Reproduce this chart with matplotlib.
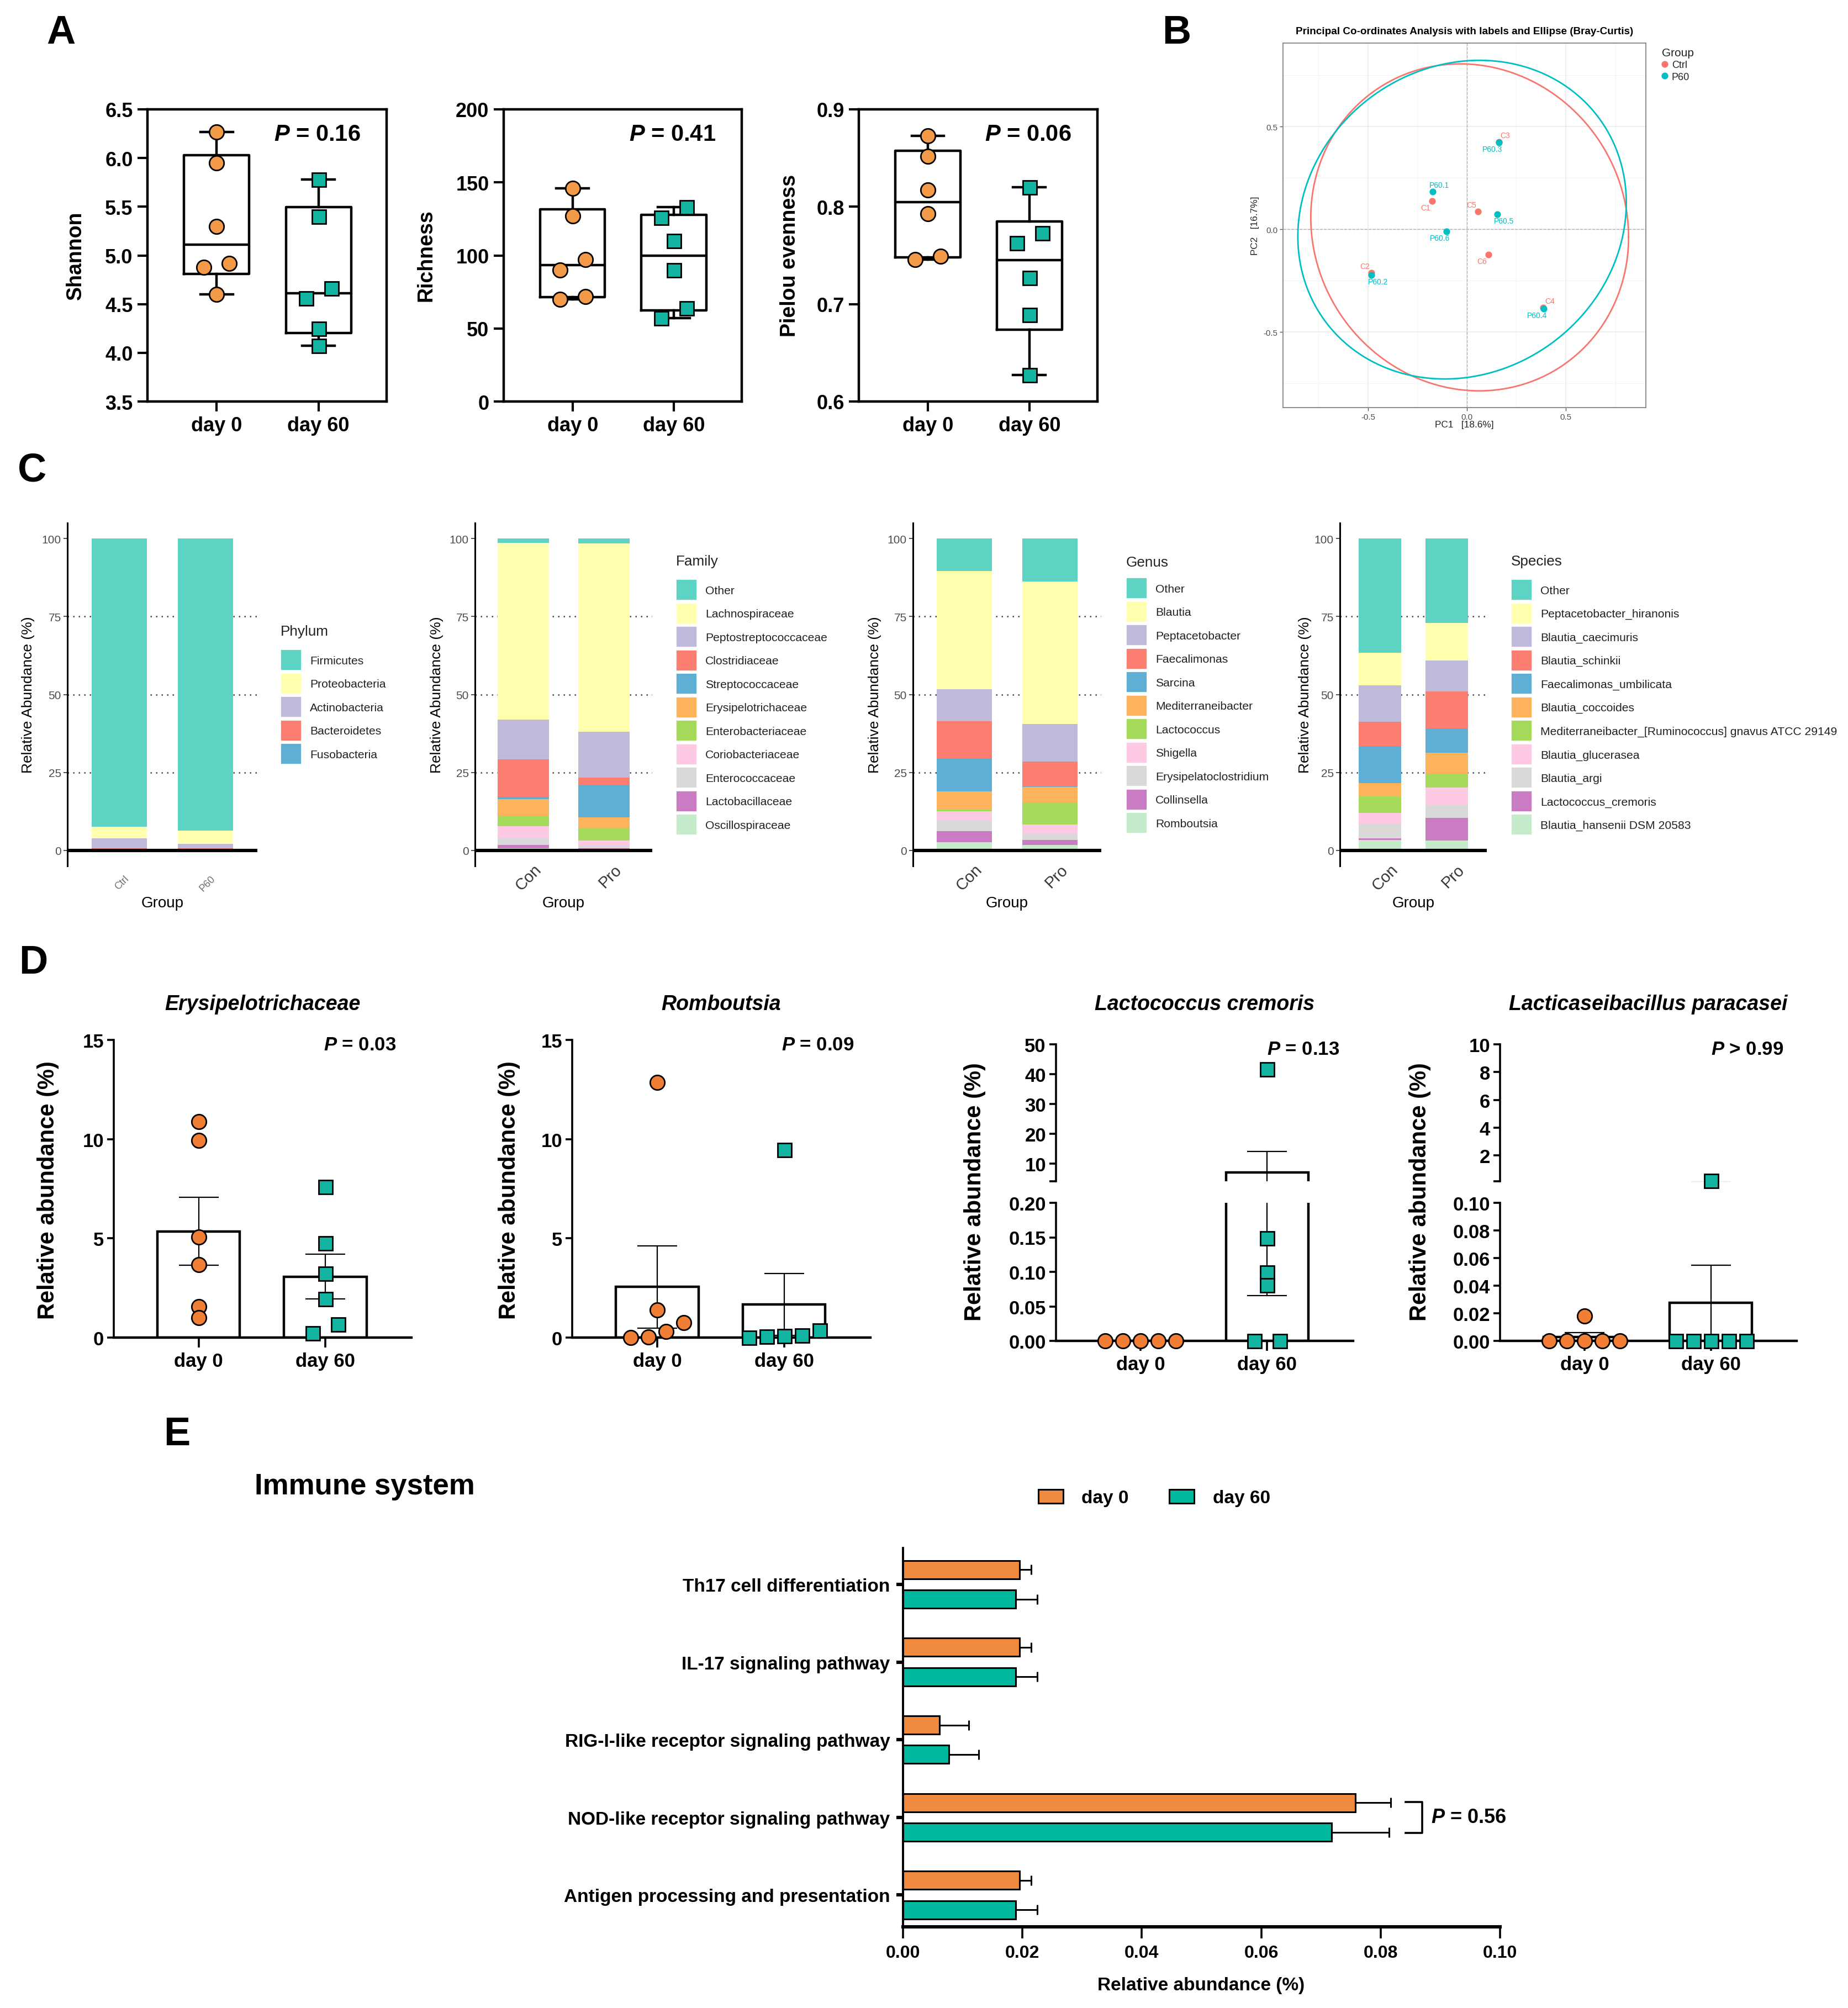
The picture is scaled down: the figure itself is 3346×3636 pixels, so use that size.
import numpy as np
import matplotlib
matplotlib.use('Agg')
import matplotlib.pyplot as plt
import matplotlib.transforms as mtrans
from matplotlib.patches import Patch
from matplotlib.lines import Line2D

plt.rcParams['font.family'] = ['Liberation Sans', 'DejaVu Sans']
plt.rcParams['mathtext.fontset'] = 'custom'
plt.rcParams['mathtext.it'] = 'Liberation Sans:italic:bold'
plt.rcParams['mathtext.rm'] = 'Liberation Sans:bold'
plt.rcParams['mathtext.bf'] = 'Liberation Sans:bold'

W, H, DPI = 3346, 3637, 200

# ---------------- data ----------------
groups = ['day 0', 'day 60']

# A: alpha diversity (six samples per group)
shannon_day0 = [6.27, 5.95, 5.30, 4.92, 4.88, 4.60]
shannon_day60 = [5.78, 5.40, 4.66, 4.56, 4.25, 4.07]
richness_day0 = [146, 127, 97, 90, 72, 70]
richness_day60 = [133, 126, 110, 90, 64, 57]
pielou_day0 = [0.873, 0.852, 0.817, 0.793, 0.749, 0.746]
pielou_day60 = [0.820, 0.773, 0.763, 0.727, 0.689, 0.627]
alpha_pvals = ['0.16', '0.41', '0.06']

# B: PCoA coordinates
ctrl_names = ['C1', 'C2', 'C3', 'C4', 'C5', 'C6']
ctrl_pc1 = [-0.175, -0.484, 0.161, 0.385, 0.055, 0.108]
ctrl_pc2 = [0.136, -0.212, 0.425, -0.381, 0.086, -0.123]
p60_names = ['P60.1', 'P60.2', 'P60.3', 'P60.4', 'P60.5', 'P60.6']
p60_pc1 = [-0.173, -0.482, 0.161, 0.389, 0.154, -0.104]
p60_pc2 = [0.184, -0.222, 0.422, -0.388, 0.073, -0.010]

# C: relative abundance (%), taxa listed top of stack first
phylum_taxa = ['Firmicutes', 'Proteobacteria', 'Actinobacteria', 'Bacteroidetes', 'Fusobacteria']
phylum_groups = ['Ctrl', 'P60']
phylum_ctrl = [92.5, 3.7, 3.1, 0.4, 0.3]
phylum_p60 = [93.7, 4.3, 1.4, 0.3, 0.3]

family_taxa = ['Other', 'Lachnospiraceae', 'Peptostreptococcaceae', 'Clostridiaceae',
               'Streptococcaceae', 'Erysipelotrichaceae', 'Enterobacteriaceae',
               'Coriobacteriaceae', 'Enterococcaceae', 'Lactobacillaceae', 'Oscillospiraceae']
family_con = [1.3, 56.7, 12.9, 12.0, 0.6, 5.5, 3.3, 3.8, 2.2, 1.1, 0.6]
family_pro = [1.6, 60.4, 14.7, 2.4, 10.4, 3.2, 4.1, 1.7, 0.8, 0.2, 0.5]

genus_taxa = ['Other', 'Blautia', 'Peptacetobacter', 'Faecalimonas', 'Sarcina',
              'Mediterraneibacter', 'Lactococcus', 'Shigella', 'Erysipelatoclostridium',
              'Collinsella', 'Romboutsia']
genus_con = [10.4, 37.9, 10.3, 12.0, 10.5, 5.9, 0.5, 2.9, 3.4, 3.5, 2.7]
genus_pro = [13.7, 45.8, 12.1, 7.9, 0.2, 5.0, 7.1, 2.9, 1.9, 1.7, 1.7]

species_taxa = ['Other', 'Peptacetobacter_hiranonis', 'Blautia_caecimuris', 'Blautia_schinkii',
                'Faecalimonas_umbilicata', 'Blautia_coccoides',
                'Mediterraneibacter_[Ruminococcus] gnavus ATCC 29149', 'Blautia_glucerasea',
                'Blautia_argi', 'Lactococcus_cremoris', 'Blautia_hansenii DSM 20583']
species_con = [36.6, 10.4, 11.7, 7.9, 11.8, 4.3, 5.3, 3.4, 4.7, 0.5, 3.4]
species_pro = [27.1, 12.0, 10.0, 11.8, 7.8, 6.7, 4.4, 5.7, 4.1, 7.2, 3.2]
stack_groups = ['Con', 'Pro']

# D: relative abundance (%) of single taxa
ery_day0 = [10.89, 9.94, 5.07, 3.67, 1.57, 0.99]
ery_day60 = [7.61, 4.76, 3.23, 1.94, 0.68, 0.22]
rom_day0 = [12.85, 1.40, 0.75, 0.30, 0.02, 0.01]
rom_day60 = [9.45, 0.35, 0.12, 0.08, 0.06, 0.0]
lac_day0 = [0.0, 0.0, 0.0, 0.0, 0.0]
lac_day60 = [41.7, 0.149, 0.099, 0.081, 0.0, 0.0]
para_day0 = [0.018, 0.0, 0.0, 0.0, 0.0, 0.0]
para_day60 = [0.165, 0.0, 0.0, 0.0, 0.0, 0.0]
taxa_pvals = ['= 0.03', '= 0.09', '= 0.13', '> 0.99']

# E: immune system pathways (top to bottom)
pathways = ['Th17 cell differentiation', 'IL-17 signaling pathway',
            'RIG-I-like receptor signaling pathway', 'NOD-like receptor signaling pathway',
            'Antigen processing and presentation']
path_day0 = [0.0195, 0.0195, 0.0061, 0.0758, 0.0195]
path_day0_sem = [0.0020, 0.0020, 0.0049, 0.0059, 0.0020]
path_day60 = [0.0189, 0.0189, 0.0077, 0.0718, 0.0189]
path_day60_sem = [0.0036, 0.0036, 0.0050, 0.0096, 0.0036]
nod_p = '0.56'

# ---------------- styling ----------------
ORANGE_A = '#F39A48'
ORANGE = '#F07E34'
ORANGE_E = '#F08A3E'
TEAL = '#13B5A2'
TEAL_E = '#00B8A0'
RED_GG = '#F8766D'
CYAN_GG = '#00BFC4'
PAL = ['#5DD3C3', '#FFFFAD', '#BFB9DA', '#FB7E70', '#5FAED4', '#FDB25C',
       '#A5DA5A', '#FDC9E3', '#D9D9D9', '#C97CC1', '#C5EBCB']

fig = plt.figure(figsize=(W / DPI, H / DPI), dpi=DPI)


def add_ax(x0, y0, x1, y1):
    return fig.add_axes([x0 / W, 1 - y1 / H, (x1 - x0) / W, (y1 - y0) / H])


def ftext(x, y, s, **kw):
    kw.setdefault('ha', 'center')
    kw.setdefault('va', 'center')
    return fig.text(x / W, 1 - y / H, s, **kw)


def swarm_x(ax, xc, vals, diam=25):
    # spread points that would overlap, in pixel space
    vals = np.asarray(vals, float)
    if len(vals) == 0:
        return vals
    tr = ax.transData
    pts = tr.transform(np.column_stack([np.full(len(vals), xc), vals]))
    ys = pts[:, 1]
    order = np.argsort(ys, kind='stable')
    clusters, cur = [], [order[0]]
    for i in order[1:]:
        if ys[i] - ys[cur[-1]] < 0.8 * diam:
            cur.append(i)
        else:
            clusters.append(cur)
            cur = [i]
    clusters.append(cur)
    xpx = np.empty(len(vals))
    for cl in clusters:
        step = {1: 0, 2: 46, 3: 42}.get(len(cl), 32)
        for j, i in enumerate(cl):
            xpx[i] = pts[i, 0] + (j - (len(cl) - 1) / 2) * step
    return tr.inverted().transform(np.column_stack([xpx, ys]))[:, 0]


def shift(texts, dx, dy):
    off = mtrans.ScaledTranslation(dx / DPI, dy / DPI, fig.dpi_scale_trans)
    for t in texts:
        t.set_transform(t.get_transform() + off)


# ---------------- panel letters ----------------
for lab, (x, y) in {'A': (110, 60), 'B': (2130, 60), 'C': (58, 852),
                    'D': (60, 1744), 'E': (320, 2598)}.items():
    ftext(x, y, lab, fontsize=26, fontweight='bold')

# ---------------- A ----------------
def box_panel(box, d0, d60, ylim, yticks, fmt, ylabel, label_x, pval):
    ax = add_ax(*box)
    stats = []
    for v in (d0, d60):
        v = np.asarray(v, float)
        q1, med, q3 = np.percentile(v, [25, 50, 75], method='weibull')
        stats.append(dict(med=med, q1=q1, q3=q3, whislo=v.min(), whishi=v.max(), fliers=[]))
    lw = 1.6
    ax.bxp(stats, positions=[0, 1], widths=0.64, capwidths=0.32, showfliers=False,
           manage_ticks=False, boxprops=dict(color='black', lw=lw),
           medianprops=dict(color='black', lw=lw), whiskerprops=dict(color='black', lw=lw),
           capprops=dict(color='black', lw=lw))
    ax.set_xlim(-0.68, 1.67)
    ax.set_ylim(*ylim)
    for i, (v, mk, c, ms) in enumerate(((d0, 'o', ORANGE_A, 9.5), (d60, 's', TEAL, 9))):
        xs = swarm_x(ax, i, v)
        ax.plot(xs, v, ls='none', marker=mk, ms=ms, mfc=c, mec='black', mew=1.0,
                zorder=4, clip_on=False)
    for s in ax.spines.values():
        s.set_linewidth(1.6)
    ax.set_yticks(yticks, [fmt % t for t in yticks])
    ax.set_xticks([0, 1], groups)
    ax.tick_params(length=6.5, width=1.5, labelsize=13, pad=3)
    for t in ax.get_xticklabels() + ax.get_yticklabels():
        t.set_fontweight('bold')
    ax.text(0.71, 0.915, '$P$ = ' + pval, transform=ax.transAxes, ha='center', va='center',
            fontsize=15, fontweight='bold')
    ftext(label_x, 463, ylabel, rotation=90, fontsize=13.5, fontweight='bold')


box_panel((267, 199, 700, 728), shannon_day0, shannon_day60, (3.5, 6.5),
          np.arange(3.5, 6.51, 0.5), '%.1f', 'Shannon', 137, alpha_pvals[0])
box_panel((912, 199, 1343, 728), richness_day0, richness_day60, (0, 200),
          np.arange(0, 201, 50), '%d', 'Richness', 771, alpha_pvals[1])
box_panel((1555, 199, 1987, 728), pielou_day0, pielou_day60, (0.6, 0.9),
          np.arange(0.6, 0.91, 0.1), '%.1f', 'Pielou evenness', 1430, alpha_pvals[2])

# ---------------- B ----------------
def cov_trob(x, nu=5, maxit=25, tol=0.01):
    n, p = x.shape
    loc = x.mean(axis=0)
    w = np.ones(n)
    X = x - loc
    for _ in range(maxit):
        w0 = w
        X = x - loc
        sw = np.sqrt(w / w.sum())
        _, d, vt = np.linalg.svd(sw[:, None] * X, full_matrices=False)
        wX = X @ vt.T @ np.diag(1 / d)
        Q = (wX ** 2).sum(axis=1)
        w = (nu + p) / (nu + Q)
        loc = (w[:, None] * x).sum(axis=0) / w.sum()
        if np.all(np.abs(w - w0) < tol):
            break
    sX = np.sqrt(w)[:, None] * X
    return loc, sX.T @ sX / n


axb = add_ax(2323, 79, 2980, 739)
axb.set_xlim(-0.93, 0.905)
axb.set_ylim(-0.868, 0.906)
axb.set_xticks([-0.5, 0, 0.5], ['-0.5', '0.0', '0.5'])
axb.set_yticks([-0.5, 0, 0.5], ['-0.5', '0.0', '0.5'])
axb.set_xticks([-0.75, -0.25, 0.25, 0.75], minor=True)
axb.set_yticks([-0.75, -0.25, 0.25, 0.75], minor=True)
axb.grid(which='major', color='#EBEBEB', lw=0.6, zorder=0)
axb.grid(which='minor', color='#F4F4F4', lw=0.4, zorder=0)
axb.set_axisbelow(True)
axb.tick_params(which='minor', length=0)
axb.tick_params(which='major', length=2, width=0.5, color='#555555', labelsize=5.4,
                labelcolor='#4D4D4D', pad=1.5)
for s in axb.spines.values():
    s.set_color('#8C8C8C')
    s.set_linewidth(0.7)
axb.axhline(0, color='#B0B0B0', ls='--', lw=0.5, zorder=1)
axb.axvline(0, color='#B0B0B0', ls='--', lw=0.5, zorder=1)

ctrl_dirs = [(-1, -1), (-1, 1), (1, 1), (1, 1), (-1, 1), (-1, -1)]
p60_dirs = [(1, 1), (1, -1), (-1, -1), (-1, -1), (1, -1), (-1, -1)]
for names, xs, ys, col, dirs in ((ctrl_names, ctrl_pc1, ctrl_pc2, RED_GG, ctrl_dirs),
                                 (p60_names, p60_pc1, p60_pc2, CYAN_GG, p60_dirs)):
    pts = np.column_stack([xs, ys])
    center, shape = cov_trob(pts)
    dfd = len(pts) - 1
    radius = np.sqrt(2 * (dfd / 2) * (0.05 ** (-2 / dfd) - 1))
    t = np.linspace(0, 2 * np.pi, 200)
    circ = np.column_stack([np.cos(t), np.sin(t)])
    ell = center + radius * circ @ np.linalg.cholesky(shape).T
    axb.plot(ell[:, 0], ell[:, 1], color=col, lw=1.0, zorder=2)
    axb.plot(xs, ys, ls='none', marker='o', ms=3.4, color=col, zorder=3)
    for nm, x, y, (dx, dy) in zip(names, xs, ys, dirs):
        axb.annotate(nm, (x, y), xytext=(4.3 * dx, 4.3 * dy), textcoords='offset points',
                     ha='center', va='center', fontsize=5, color=col)
axb.set_title('Principal Co-ordinates Analysis with labels and Ellipse (Bray-Curtis)',
              fontsize=6.8, fontweight='bold', pad=6)
ftext(2651, 770, 'PC1   [18.6%]', fontsize=6.2, color='#222222')
ftext(2273, 409, 'PC2   [16.7%]', fontsize=6.2, color='#222222', rotation=90)
ftext(3009, 96, 'Group', fontsize=7.5, ha='left', color='#222222')
b_handles = [Line2D([], [], ls='none', marker='o', ms=3.4, color=RED_GG),
             Line2D([], [], ls='none', marker='o', ms=3.4, color=CYAN_GG)]
fig.legend(b_handles, ['Ctrl', 'P60'], loc='upper left',
           bbox_to_anchor=(3008 / W, 1 - 110 / H), frameon=False, fontsize=6.5,
           handlelength=0.7, handletextpad=0.35, borderpad=0, borderaxespad=0,
           labelspacing=0.25, labelcolor='#222222')

# ---------------- C ----------------
def stack_panel(x0, x1, taxa, con, pro, glabels, title, leg_x, title_y, key_y, ylab_x,
                small=False):
    ax = add_ax(x0, 948, x1, 1569)
    ax.set_xlim(0.4, 2.6)
    ax.set_ylim(-5, 105)
    for yv in (25, 50, 75):
        ax.axhline(yv, color='#444444', ls=(0, (1, 3)), lw=0.9, zorder=0)
    vals = np.array([con, pro], float)
    bottom = np.zeros(2)
    for k in range(len(taxa) - 1, -1, -1):
        ax.bar([1, 2], vals[:, k], 0.64, bottom=bottom, color=PAL[k], zorder=2)
        bottom += vals[:, k]
    ax.axhline(0, color='black', lw=2.2, zorder=3)
    for side in ('top', 'right', 'bottom'):
        ax.spines[side].set_visible(False)
    ax.spines['left'].set_linewidth(1.1)
    ax.set_yticks([0, 25, 50, 75, 100])
    ax.tick_params(axis='y', length=2.5, width=0.6, color='#333333', labelsize=7.5,
                   labelcolor='#4D4D4D', pad=1.5)
    ax.set_xticks([1, 2], glabels)
    if small:
        ax.tick_params(axis='x', length=0, labelsize=6.5, labelcolor='#6E6E6E', pad=0)
    else:
        ax.tick_params(axis='x', length=0, labelsize=10.5, labelcolor='#333333', pad=0)
    for t in ax.get_xticklabels():
        t.set_rotation(45)
        t.set_ha('right')
        t.set_va('top')
        t.set_rotation_mode('anchor')
    if small:
        shift(ax.get_xticklabels(), 9, -14)
    else:
        shift(ax.get_xticklabels(), 18, 8)
    ftext((x0 + x1) / 2, 1636, 'Group', fontsize=10)
    ftext(ylab_x, 1258, 'Relative Abundance (%)', fontsize=9.5, rotation=90)
    ftext(leg_x, title_y, title, fontsize=9.4, ha='left', color='#222222')
    handles = [Patch(facecolor=PAL[k], edgecolor='white', lw=0.6) for k in range(len(taxa))]
    fig.legend(handles, taxa, loc='upper left',
               bbox_to_anchor=(leg_x / W, 1 - key_y / H), frameon=False, fontsize=7.6,
               handlelength=1.8, handleheight=2.4, labelspacing=0.21,
               handletextpad=0.7, borderpad=0, borderaxespad=0, labelcolor='#222222')


stack_panel(122, 466, phylum_taxa, phylum_ctrl, phylum_p60, phylum_groups, 'Phylum',
            508, 1144, 1177, 51, small=True)
stack_panel(860, 1181, family_taxa, family_con, family_pro, stack_groups, 'Family',
            1224, 1017, 1050, 791)
stack_panel(1653, 1994, genus_taxa, genus_con, genus_pro, stack_groups, 'Genus',
            2039, 1019, 1047, 1584)
stack_panel(2426, 2692, species_taxa, species_con, species_pro, stack_groups, 'Species',
            2736, 1017, 1050, 2363)

# ---------------- D ----------------
def mean_sem(v):
    v = np.asarray(v, float)
    return v.mean(), v.std(ddof=1) / np.sqrt(len(v))


def draw_bars(ax, d0, d60, lo, hi):
    for i, (v, mk, c, ms) in enumerate(((d0, 'o', ORANGE, 9.5), (d60, 's', TEAL, 9))):
        m, s = mean_sem(v)
        ax.bar(i, m, 0.65, color='white', edgecolor='black', lw=1.6, zorder=1)
        if s > 0:
            ax.errorbar(i, m, yerr=s, fmt='none', ecolor='black', elinewidth=0.8,
                        capsize=12.8, capthick=0.8, zorder=2)
        v = np.asarray(v, float)
        inside = v[(v >= lo) & (v <= hi)]
        xs = swarm_x(ax, i, inside)
        ax.plot(xs, inside, ls='none', marker=mk, ms=ms, mfc=c, mec='black', mew=1.0,
                zorder=4, clip_on=False)


def style_d(ax, bottom=True):
    ax.set_xlim(-0.67, 1.68)
    for side in ('top', 'right'):
        ax.spines[side].set_visible(False)
    ax.spines['left'].set_linewidth(1.3)
    ax.spines['bottom'].set_linewidth(1.6)
    ax.tick_params(axis='y', length=4.5, width=1.3, labelsize=12.5, pad=2)
    if bottom:
        ax.set_xticks([0, 1], groups)
        ax.tick_params(axis='x', length=6.5, width=1.3, labelsize=12.5, pad=3)
    else:
        ax.spines['bottom'].set_visible(False)
        ax.set_xticks([])
    for t in ax.get_xticklabels() + ax.get_yticklabels():
        t.set_fontweight('bold')


def simple_bar_panel(box, d0, d60, ylim, yticks, title, pval, ylab_x, p_x):
    ax = add_ax(*box)
    ax.set_xlim(-0.67, 1.68)
    ax.set_ylim(*ylim)
    draw_bars(ax, d0, d60, *ylim)
    ax.set_yticks(yticks)
    style_d(ax)
    ftext((box[0] + box[2]) / 2, 1819, title, fontsize=13.5, fontweight='bold', style='italic')
    ftext(p_x, 1893, '$P$ ' + pval, fontsize=12.5, fontweight='bold')
    ftext(ylab_x, 2155, 'Relative abundance (%)', fontsize=15, fontweight='bold', rotation=90)


def broken_bar_panel(x0, x1, d0, d60, up_lim, up_ticks, low_lim, low_ticks, low_fmt,
                     title, pval, ylab_x, p_x):
    up = add_ax(x0, 1892, x1, 2140)
    low = add_ax(x0, 2179, x1, 2429)
    for ax, lim in ((up, up_lim), (low, low_lim)):
        ax.set_xlim(-0.67, 1.68)
        ax.set_ylim(*lim)
    draw_bars(low, d0, d60, *low_lim)
    draw_bars(up, d0, d60, up_lim[0] + 1e-9, up_lim[1])
    up.set_yticks([up_lim[0]] + list(up_ticks), [''] + ['%g' % t for t in up_ticks])
    low.set_yticks(low_ticks, [low_fmt % t for t in low_ticks])
    style_d(up, bottom=False)
    style_d(low)
    ftext((x0 + x1) / 2, 1819, title, fontsize=13.5, fontweight='bold', style='italic')
    ftext(p_x, 1900, '$P$ ' + pval, fontsize=12.5, fontweight='bold')
    ftext(ylab_x, 2158, 'Relative abundance (%)', fontsize=15, fontweight='bold', rotation=90)


simple_bar_panel((206, 1884, 745, 2423), ery_day0, ery_day60, (0, 15), [0, 5, 10, 15],
                 'Erysipelotrichaceae', taxa_pvals[0], 87, 652)
simple_bar_panel((1036, 1884, 1576, 2423), rom_day0, rom_day60, (0, 15), [0, 5, 10, 15],
                 'Romboutsia', taxa_pvals[1], 922, 1481)
broken_bar_panel(1912, 2450, lac_day0, lac_day60, (4, 50), [10, 20, 30, 40, 50],
                 (0, 0.2), np.arange(0, 0.201, 0.05), '%.2f', 'Lactococcus cremoris',
                 taxa_pvals[2], 1765, 2360)
broken_bar_panel(2716, 3253, para_day0, para_day60, (0.13, 10), [2, 4, 6, 8, 10],
                 (0, 0.1), np.arange(0, 0.101, 0.02), '%.2f', 'Lacticaseibacillus paracasei',
                 taxa_pvals[3], 2571, 3164)

# ---------------- E ----------------
axe = add_ax(1635, 2804, 2716, 3490)
ypos = np.arange(len(pathways))[::-1]
axe.barh(ypos + 0.19, path_day0, 0.235, color=ORANGE_E, edgecolor='black', lw=1.1, zorder=2)
axe.barh(ypos - 0.19, path_day60, 0.235, color=TEAL_E, edgecolor='black', lw=1.1, zorder=2)
zeros = np.zeros(len(pathways))
axe.errorbar(path_day0, ypos + 0.19, xerr=[zeros, path_day0_sem], fmt='none', ecolor='black',
             elinewidth=1.1, capsize=3.3, capthick=1.1, zorder=3)
axe.errorbar(path_day60, ypos - 0.19, xerr=[zeros, path_day60_sem], fmt='none', ecolor='black',
             elinewidth=1.1, capsize=3.3, capthick=1.1, zorder=3)
axe.set_xlim(0, 0.1)
axe.set_ylim(-0.41, 4.47)
axe.set_xticks(np.arange(0, 0.101, 0.02), ['%.2f' % t for t in np.arange(0, 0.101, 0.02)])
axe.set_yticks(ypos, pathways)
for side in ('top', 'right'):
    axe.spines[side].set_visible(False)
axe.spines['left'].set_linewidth(1.4)
axe.spines['bottom'].set_linewidth(2.2)
axe.tick_params(axis='y', length=4.5, width=2.2, labelsize=12, pad=4)
axe.tick_params(axis='x', length=7.5, width=1.3, labelsize=11.5, pad=4)
for t in axe.get_xticklabels() + axe.get_yticklabels():
    t.set_fontweight('bold')
ftext(2175, 3596, 'Relative abundance (%)', fontsize=12, fontweight='bold')
ftext(660, 2692, 'Immune system', fontsize=19, fontweight='bold')

# bracket for the NOD-like pathway
k = pathways.index('NOD-like receptor signaling pathway')
bx = max(path_day0[k] + path_day0_sem[k], path_day60[k] + path_day60_sem[k]) + 0.0025
axe.plot([bx, bx + 0.0028, bx + 0.0028, bx],
         [ypos[k] + 0.2, ypos[k] + 0.2, ypos[k] - 0.2, ypos[k] - 0.2],
         color='black', lw=1.3, clip_on=False)
axe.text(bx + 0.0042, ypos[k], '$P$ = ' + nod_p, ha='left', va='center', fontsize=13,
         fontweight='bold', clip_on=False)

e_handles = [Patch(facecolor=ORANGE_E, edgecolor='black', lw=1.1),
             Patch(facecolor=TEAL_E, edgecolor='black', lw=1.1)]
fig.legend(e_handles, groups, loc='upper left', bbox_to_anchor=(1880 / W, 1 - 2698 / H),
           ncol=2, frameon=False, prop={'size': 12, 'weight': 'bold'}, handlelength=1.35,
           handleheight=0.75, handletextpad=1.0, columnspacing=2.2, borderpad=0,
           borderaxespad=0)

fig.savefig('out.png', dpi=DPI, facecolor='white')
